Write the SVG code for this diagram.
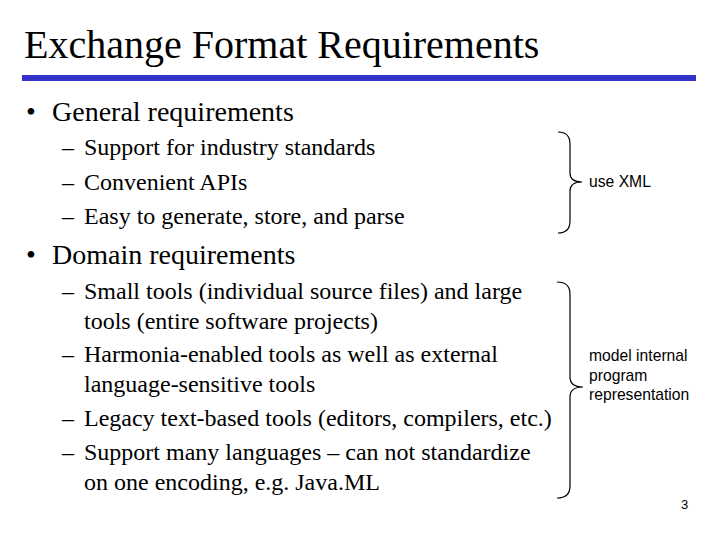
<svg xmlns="http://www.w3.org/2000/svg" width="720" height="540" viewBox="0 0 720 540">
<style>
text{font-family:'Liberation Serif','Times New Roman','DejaVu Serif',serif;fill:#000}
.h{font-size:40px}
.b{font-size:28px}
.s{font-size:24px}
text.a{font-family:'Liberation Sans',Arial,sans-serif;font-size:15.7px}
.br{fill:none;stroke:#000;stroke-width:1.2}
</style>
<rect width="720" height="540" fill="#fff"/>
<g id="title"><text class="h" x="24" y="58">Exchange Format Requirements</text>
<rect x="22" y="75" width="674" height="6" fill="#3333cc"/></g>
<g id="general">
<text class="b" x="26" y="121">•</text><text class="b" x="52" y="121">General requirements</text>
<text class="s" x="62" y="155">–</text><text class="s" x="84" y="155">Support for industry standards</text>
<text class="s" x="62" y="190">–</text><text class="s" x="84" y="190">Convenient APIs</text>
<text class="s" x="62" y="224">–</text><text class="s" x="84" y="224">Easy to generate, store, and parse</text>
</g>
<g id="domain">
<text class="b" x="26" y="264">•</text><text class="b" x="52" y="264">Domain requirements</text>
<text class="s" x="62" y="299">–</text><text class="s" x="84" y="299">Small tools (individual source files) and large</text>
<text class="s" x="84" y="329">tools (entire software projects)</text>
<text class="s" x="62" y="362">–</text><text class="s" x="84" y="362">Harmonia-enabled tools as well as external</text>
<text class="s" x="84" y="392">language-sensitive tools</text>
<text class="s" x="62" y="426">–</text><text class="s" x="84" y="426">Legacy text-based tools (editors, compilers, etc.)</text>
<text class="s" x="62" y="460">–</text><text class="s" x="84" y="460">Support many languages – can not standardize</text>
<text class="s" x="84" y="490">on one encoding, e.g. Java.ML</text>
</g>
<g id="connectors">
<path class="br" d="M558,132 Q570,132 570,144 L570,173 Q570,182 582,182 Q570,182 570,191 L570,221 Q570,233 558,233"/>
<path class="br" d="M557,282 Q570,282 570,294 L570,377 Q570,387 583,387 Q570,387 570,397 L570,486 Q570,498 557,498"/>
</g>
<g id="useXML"><text class="a" x="589" y="187">use XML</text></g>
<g id="model"><text class="a" x="589" y="361">model internal</text>
<text class="a" x="589" y="381">program</text>
<text class="a" x="589" y="400">representation</text></g>
<text class="a" x="681" y="509" style="font-size:13px">3</text>
</svg>
